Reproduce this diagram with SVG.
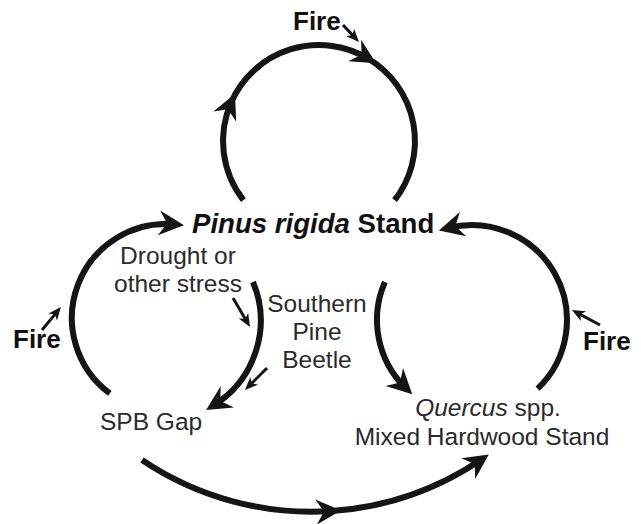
<svg xmlns="http://www.w3.org/2000/svg" width="641" height="524" viewBox="0 0 641 524">
<style>
.bg{fill:#fff}
.arc{fill:none;stroke:#151515;stroke-width:6;stroke-linecap:butt}
.thin{fill:none;stroke:#151515;stroke-width:3}
.t{font-family:"Liberation Sans",Arial,Helvetica,sans-serif;font-size:24.5px;fill:#2a2a2a}
.b{font-family:"Liberation Sans",Arial,Helvetica,sans-serif;font-weight:bold;fill:#111}
.c{text-anchor:middle}
</style>
<defs>
<marker id="big" markerUnits="userSpaceOnUse" viewBox="-17 -14 28 28" refX="0" refY="0" markerWidth="28" markerHeight="28" orient="auto">
<path d="M9,0 L-16,-12.5 L-8,0 L-16,12.5 Z" fill="#151515"/>
</marker>
<marker id="sm" markerUnits="userSpaceOnUse" viewBox="-9 -7 16 14" refX="0" refY="0" markerWidth="16" markerHeight="14" orient="auto">
<path d="M5,0 L-8,-5.5 L-4.5,0 L-8,5.5 Z" fill="#151515"/>
</marker>
</defs>
<rect class="bg" x="0" y="0" width="641" height="524"/>
<g id="connectors">
<!-- top loop -->
<path class="arc" d="M243.4,200.1 A96,96 0 0 1 231.3,102" marker-end="url(#big)"/>
<path class="arc" d="M231.3,102 A96,96 0 0 1 368.4,58.7" marker-end="url(#big)"/>
<path class="arc" d="M368.4,58.7 A96,96 0 0 1 394.6,200.1"/>
<!-- left loop -->
<path class="arc" d="M109.8,393.4 A94,94 0 0 1 175,224.4" marker-end="url(#big)"/>
<path class="arc" d="M253,282 A100,100 0 0 1 213.7,405.3" marker-end="url(#big)"/>
<!-- right loop -->
<path class="arc" d="M537.6,388.7 A95,95 0 0 0 447.6,228.2" marker-end="url(#big)"/>
<path class="arc" d="M384.9,282 A95,95 0 0 0 405.8,388.1" marker-end="url(#big)"/>
<!-- bottom -->
<path class="arc" d="M142,460 A303.3,303.3 0 0 0 332,511" marker-end="url(#big)"/>
<path class="arc" d="M332,511 A303.3,303.3 0 0 0 481.4,459.6" marker-end="url(#big)"/>
<!-- small influence arrows -->
<path class="thin" d="M343,25 L355.6,38.4" marker-end="url(#sm)"/>
<path class="thin" d="M42,330 L57.8,310.9" marker-end="url(#sm)"/>
<path class="thin" d="M600,325 L576.4,312.4" marker-end="url(#sm)"/>
<path class="thin" d="M233,298 L247.5,322.7" marker-end="url(#sm)"/>
<path class="thin" d="M267,368 L248.5,386.5" marker-end="url(#sm)"/>
</g>
<g id="pinus">
<text class="b" x="192" y="233" font-size="27.6"><tspan font-style="italic">Pinus rigida</tspan> Stand</text>
</g>
<g id="spb-gap">
<text class="t" x="100" y="430">SPB Gap</text>
</g>
<g id="quercus">
<text class="t c" x="488" y="416"><tspan font-style="italic">Quercus</tspan> spp.</text>
<text class="t c" x="482" y="445">Mixed Hardwood Stand</text>
</g>
<g id="fire-top"><text class="b" x="293" y="30" font-size="26">Fire</text></g>
<g id="fire-left"><text class="b" x="13" y="348" font-size="26">Fire</text></g>
<g id="fire-right"><text class="b" x="583" y="350" font-size="26">Fire</text></g>
<g id="drought">
<text class="t c" x="178" y="264">Drought or</text>
<text class="t c" x="178" y="292">other stress</text>
</g>
<g id="beetle">
<text class="t c" x="317" y="312">Southern</text>
<text class="t c" x="317" y="340">Pine</text>
<text class="t c" x="317" y="368">Beetle</text>
</g>
</svg>
